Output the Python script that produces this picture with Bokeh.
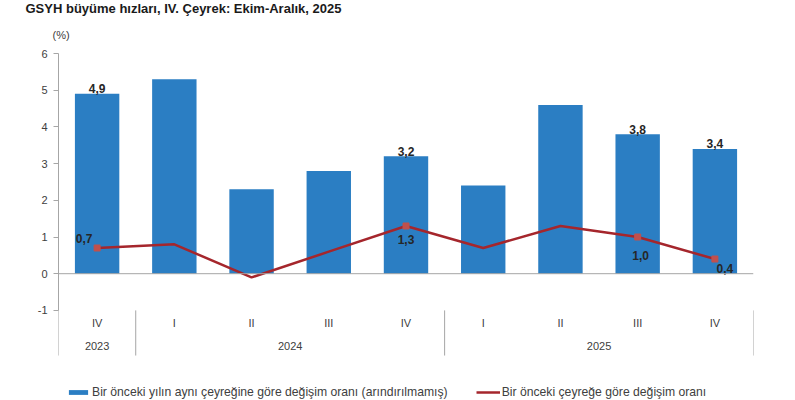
from bokeh.plotting import figure
from bokeh.models import (Range1d, LinearAxis, FixedTicker, Span, Legend,
                          LegendItem, Title, ColumnDataSource)
from bokeh.core.properties import value
from bokeh.embed import file_html
from bokeh.resources import INLINE

# ---------------- data ----------------
years = ["2023", "2024", "2024", "2024", "2024", "2025", "2025", "2025", "2025"]
quarters = ["IV", "I", "II", "III", "IV", "I", "II", "III", "IV"]
yoy = [4.9, 5.3, 2.3, 2.8, 3.2, 2.4, 4.6, 3.8, 3.4]   # yıllık değişim
qoq = [0.7, 0.8, -0.1, 0.6, 1.3, 0.7, 1.3, 1.0, 0.4]  # çeyreklik değişim
labeled = [0, 4, 7, 8]
y_ticks = [-1, 0, 1, 2, 3, 4, 5, 6]

TITLE = "GSYH büyüme hızları, IV. Çeyrek: Ekim-Aralık, 2025"
UNIT = "(%)"
LEG_YOY = "Bir önceki yılın aynı çeyreğine göre değişim oranı (arındırılmamış)"
LEG_QOQ = "Bir önceki çeyreğe göre değişim oranı"

# ---------------- styles ----------------
FONT = "Liberation Sans"
BAR_C = "#2b7ec3"
LINE_C = "#a5262c"
MARK_C = "#c0504d"
AXIS_C = "#a6a6a6"
TXT_C = "#404040"
VAL_C = "#262626"
# per-label offsets for the line value labels (screen px)
qoq_dx = [-13, 0, 3, 10]
qoq_dy = [-10, 14, 18, 9]


def fmt(v):
    return f"{v:.1f}".replace(".", ",")


n = len(quarters)
xs = [i + 0.5 for i in range(n)]

p = figure(width=795, height=400, x_range=Range1d(0, n),
           y_range=Range1d(-3.455, 6.0), output_backend="svg",
           toolbar_location=None, title=None,
           x_axis_location=None, y_axis_location=None,
           min_border_left=58, min_border_right=42,
           min_border_top=53, min_border_bottom=0)
p.outline_line_color = None
p.xgrid.visible = False
p.ygrid.visible = False
p.background_fill_color = "white"
p.border_fill_color = "white"

yaxis = LinearAxis(ticker=FixedTicker(ticks=y_ticks), bounds=(-1, 6),
                   axis_line_color=AXIS_C, major_tick_line_color=AXIS_C,
                   major_tick_out=5, major_tick_in=0,
                   minor_tick_line_color=None,
                   major_label_text_font_size="11px",
                   major_label_text_color=TXT_C,
                   major_label_text_font=FONT,
                   major_label_standoff=6,
                   major_label_overrides={t: str(t) for t in y_ticks})
p.add_layout(yaxis, "left")

p.add_layout(Span(location=0, dimension="width", line_color=AXIS_C,
                  line_width=1))

bars = p.vbar(x=xs, top=yoy, bottom=0, width=0.575, fill_color=BAR_C,
              line_color=None)
line = p.line(xs, qoq, line_color=LINE_C, line_width=2.5)
p.scatter([xs[i] for i in labeled], [qoq[i] for i in labeled],
          marker="square", size=6, fill_color=MARK_C, line_color=MARK_C)

# bar value labels
p.text([xs[i] for i in labeled], [yoy[i] for i in labeled],
       text=[fmt(yoy[i]) for i in labeled], text_align="center",
       text_baseline="alphabetic", y_offset=-5,
       text_font=value(FONT), text_font_size="12px",
       text_font_style="bold", text_color=VAL_C)

# line value labels
src = ColumnDataSource(dict(
    x=[xs[i] for i in labeled], y=[qoq[i] for i in labeled],
    t=[fmt(qoq[i]) for i in labeled], dx=qoq_dx, dy=qoq_dy))
p.text("x", "y", text="t", x_offset="dx", y_offset="dy", source=src,
       text_align="center", text_baseline="alphabetic",
       text_font=value(FONT), text_font_size="12px",
       text_font_style="bold", text_color=VAL_C)

# category axis (quarters, years, separators)
p.text(xs, [-1.355] * n, text=quarters, text_align="center",
       text_baseline="middle", text_font=value(FONT),
       text_font_size="11px", text_color=TXT_C)
bounds = [0] + [i for i in range(1, n) if years[i] != years[i - 1]] + [n]
ycent = [(bounds[k] + bounds[k + 1]) / 2 for k in range(len(bounds) - 1)]
ylab = [years[bounds[k]] for k in range(len(bounds) - 1)]
p.text(ycent, [-1.96] * len(ycent), text=ylab, text_align="center",
       text_baseline="middle", text_font=value(FONT),
       text_font_size="11px", text_color=TXT_C)
p.segment(x0=bounds, y0=[-1] * len(bounds), x1=bounds,
          y1=[-2.23] * len(bounds), line_color=AXIS_C, line_width=1)

legend = Legend(items=[LegendItem(label=LEG_YOY, renderers=[bars]),
                       LegendItem(label=LEG_QOQ, renderers=[line])],
                location=(8, 1), orientation="horizontal",
                glyph_width=24, glyph_height=6, label_height=12,
                label_standoff=2, spacing=28, padding=0, margin=0,
                border_line_color=None, background_fill_alpha=0,
                label_text_font=FONT, label_text_font_size="12.2px",
                label_text_color=TXT_C)
p.add_layout(legend)

p.add_layout(Title(text=UNIT, align="left", offset=-6,
                   text_font_size="11px", text_font_style="normal",
                   text_color=TXT_C, text_font=FONT, standoff=25), "above")
p.add_layout(Title(text=TITLE, align="left", offset=-33,
                   text_font_size="13px", text_font_style="bold",
                   text_color="#1a1a1a", text_font=FONT, standoff=-3),
             "above")

open("out.html", "w").write(file_html(p, INLINE))
